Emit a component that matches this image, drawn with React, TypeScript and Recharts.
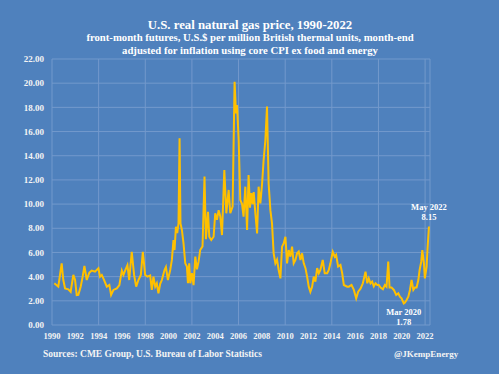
import { LineChart, Line, XAxis, YAxis, CartesianGrid, ReferenceDot } from "recharts";

// decimal years and real price ($/mmBtu)
const dates = [
  1990.2, 1990.54, 1990.83, 1990.97, 1991.12, 1991.4, 1991.6, 1991.83, 1991.98, 1992.12,
  1992.26, 1992.46, 1992.63, 1992.78, 1992.98, 1993.2, 1993.41, 1993.69, 1993.98, 1994.12,
  1994.27, 1994.47, 1994.7, 1994.92, 1995.07, 1995.27, 1995.56, 1995.78, 1995.99, 1996.13,
  1996.27, 1996.47, 1996.62, 1996.84, 1997.04, 1997.22, 1997.41, 1997.62, 1997.79, 1997.99,
  1998.19, 1998.42, 1998.56, 1998.7, 1998.85, 1998.99, 1999.13, 1999.28, 1999.42, 1999.65,
  1999.77, 1999.94, 2000.14, 2000.28, 2000.42, 2000.51, 2000.63, 2000.74, 2000.85, 2000.94,
  2001.02, 2001.14, 2001.28, 2001.43, 2001.57, 2001.66, 2001.77, 2001.86, 2002.0, 2002.14,
  2002.29, 2002.43, 2002.57, 2002.71, 2002.91, 2003.08, 2003.2, 2003.38, 2003.49, 2003.66,
  2003.86, 2004.0, 2004.15, 2004.29, 2004.43, 2004.58, 2004.78, 2004.95, 2005.15, 2005.29,
  2005.49, 2005.66, 2005.78, 2005.87, 2006.01, 2006.15, 2006.3, 2006.43, 2006.58, 2006.73,
  2006.86, 2006.98, 2007.1, 2007.21, 2007.3, 2007.44, 2007.59, 2007.72, 2007.87, 2008.02,
  2008.15, 2008.3, 2008.44, 2008.58, 2008.73, 2008.87, 2009.01, 2009.16, 2009.3, 2009.44,
  2009.59, 2009.73, 2009.87, 2010.02, 2010.16, 2010.3, 2010.45, 2010.59, 2010.73, 2010.88,
  2011.02, 2011.16, 2011.31, 2011.45, 2011.59, 2011.74, 2011.88, 2012.02, 2012.16, 2012.31,
  2012.45, 2012.59, 2012.74, 2012.88, 2013.02, 2013.22, 2013.39, 2013.6, 2013.74, 2013.88,
  2014.08, 2014.25, 2014.37, 2014.54, 2014.74, 2014.89, 2015.03, 2015.32, 2015.46, 2015.69,
  2015.89, 2016.09, 2016.26, 2016.46, 2016.66, 2016.89, 2017.04, 2017.17, 2017.32, 2017.46,
  2017.6, 2017.75, 2017.9, 2018.03, 2018.18, 2018.38, 2018.55, 2018.69, 2018.84, 2018.95,
  2019.12, 2019.32, 2019.52, 2019.7, 2019.84, 2019.98, 2020.17, 2020.27, 2020.41, 2020.56,
  2020.7, 2020.84, 2020.99, 2021.13, 2021.27, 2021.42, 2021.53, 2021.67, 2021.76, 2021.9,
  2021.98, 2022.13, 2022.22, 2022.33,
];

const prices = [
  3.45, 3.17, 5.1, 3.72, 3.03, 2.95, 2.75, 4.14, 3.72, 2.48,
  2.5, 3.17, 4.0, 4.88, 3.72, 4.33, 4.5, 4.41, 4.69, 4.0,
  4.14, 3.72, 3.17, 3.31, 2.48, 2.9, 3.03, 3.31, 4.5, 4.14,
  4.5, 4.96, 3.72, 6.06, 4.14, 3.17, 3.72, 4.14, 6.06, 4.14,
  4.0, 4.1, 2.9, 4.0, 3.17, 3.45, 2.62, 3.4, 3.72, 4.55,
  4.8, 3.72, 4.55, 5.38, 7.03, 6.2, 8.13, 7.6, 8.4, 15.44,
  8.4, 7.86, 6.75, 5.1, 4.83, 3.45, 5.1, 3.45, 4.28, 3.3,
  5.65, 4.6, 5.24, 6.2, 6.5, 12.27, 7.1, 9.37, 7.3, 7.03,
  7.3, 9.24, 8.7, 9.5, 9.0, 7.44, 12.82, 9.24, 11.17, 9.24,
  9.8, 20.12, 17.5, 18.2, 15.3, 10.34, 10.0, 8.96, 11.44, 7.86,
  12.4, 9.7, 10.9, 10.0, 11.0, 9.24, 7.58, 11.44, 10.06, 11.72,
  13.65, 15.3, 18.06, 11.7, 9.5, 8.4, 5.93, 5.1, 5.4, 4.55,
  3.86, 6.48, 6.75, 7.3, 5.1, 6.2, 5.65, 6.48, 5.1, 5.38,
  5.93, 6.07, 5.38, 5.93, 5.1, 4.7, 4.0, 3.17, 2.75, 3.17,
  4.0, 3.58, 4.7, 4.28, 4.55, 5.38, 4.28, 4.28, 4.55, 5.1,
  6.06, 5.65, 5.8, 4.83, 4.96, 4.28, 3.31, 3.17, 3.17, 3.31,
  2.9, 2.2, 2.75, 3.0, 3.45, 4.41, 3.45, 3.86, 3.45, 3.59,
  3.2, 3.45, 3.31, 3.31, 3.1, 2.96, 3.31, 3.17, 5.24, 3.1,
  3.1, 2.9, 2.48, 2.62, 2.34, 2.2, 1.78, 1.85, 2.07, 2.34,
  2.9, 3.72, 2.9, 3.1, 3.1, 3.72, 4.55, 5.24, 6.2, 5.1,
  3.86, 4.82, 6.5, 8.15,
];

const yearTicks = [1990, 1992, 1994, 1996, 1998, 2000, 2002, 2004, 2006, 2008, 2010, 2012, 2014, 2016, 2018, 2020, 2022];
const priceTicks = [0, 2, 4, 6, 8, 10, 12, 14, 16, 18, 20, 22];

const lowPoint = { t: 2020.17, v: 1.78, when: "Mar 2020" };
const lastPoint = { t: 2022.33, v: 8.15, when: "May 2022" };

const data = dates.map((t, i) => ({ t, price: prices[i] }));

const BG = "#4f81bd";
const FONT = "'Liberation Serif', 'Times New Roman', serif";

const tickStyle = { fill: "#f4f4f4", fontSize: 9, fontWeight: 700, fontFamily: FONT };

function callout(text1: string, text2: string, above: boolean) {
  return (props: any) => {
    const vb = props.viewBox || {};
    const cx = vb.x + (vb.width || 0) / 2;
    const cy = vb.y + (vb.height || 0) / 2;
    const y1 = above ? cy - 16 : cy + 11.5;
    return (
      <g fontFamily={FONT} fontWeight={700} fontSize={8.5} fill="#ffffff" textAnchor="middle">
        <text x={cx} y={y1}>{text1}</text>
        <text x={cx} y={y1 + 10}>{text2}</text>
      </g>
    );
  };
}

export default function App() {
  return (
    <div style={{ position: "fixed", left: 0, top: 0, width: 499, height: 374, background: BG, overflow: "hidden" }}>
      <LineChart
        width={499}
        height={374}
        data={data}
        margin={{ top: 59, right: 69, bottom: 19, left: 0 }}
        style={{ position: "absolute", left: 0, top: 0 }}
      >
        <CartesianGrid stroke="#7399cc" strokeWidth={1} />
        <XAxis
          dataKey="t"
          type="number"
          domain={[1990, 2022.42]}
          ticks={yearTicks}
          tickFormatter={(v: number) => String(v)}
          tick={{ ...tickStyle, fontSize: 8.5 }}
          axisLine={false}
          tickLine={false}
          height={30}
        />
        <YAxis
          type="number"
          domain={[0, 22]}
          ticks={priceTicks}
          tickFormatter={(v: number) => v.toFixed(2)}
          tick={tickStyle}
          axisLine={false}
          tickLine={false}
          width={52}
        />
        <Line
          type="linear"
          dataKey="price"
          stroke="#ffc000"
          strokeWidth={2}
          dot={false}
          isAnimationActive={false}
        />
        <ReferenceDot
          x={lastPoint.t}
          y={lastPoint.v}
          r={0}
          stroke="none"
          fill="none"
          label={callout(lastPoint.when, lastPoint.v.toFixed(2), true)}
        />
        <ReferenceDot
          x={lowPoint.t}
          y={lowPoint.v}
          r={0}
          stroke="none"
          fill="none"
          label={callout(lowPoint.when, lowPoint.v.toFixed(2), false)}
        />
      </LineChart>
      <svg width={499} height={374} style={{ position: "absolute", left: 0, top: 0, pointerEvents: "none" }}>
        <g fontFamily={FONT} fontWeight={700} fill="#ffffff" textAnchor="middle">
          <text x={250} y={28.5} fontSize={12.8}>U.S. real natural gas price, 1990-2022</text>
          <text x={250} y={41} fontSize={10.7}>front-month futures, U.S.$ per million British thermal units, month-end</text>
          <text x={250} y={53.5} fontSize={10.7}>adjusted for inflation using core CPI ex food and energy</text>
        </g>
        <g fontFamily={FONT} fontWeight={700} fill="#f4f4f4" fontSize={9.5}>
          <text x={43} y={357}>Sources: CME Group, U.S. Bureau of Labor Statistics</text>
          <text x={394} y={357} fontSize={9}>@JKempEnergy</text>
        </g>
      </svg>
    </div>
  );
}
